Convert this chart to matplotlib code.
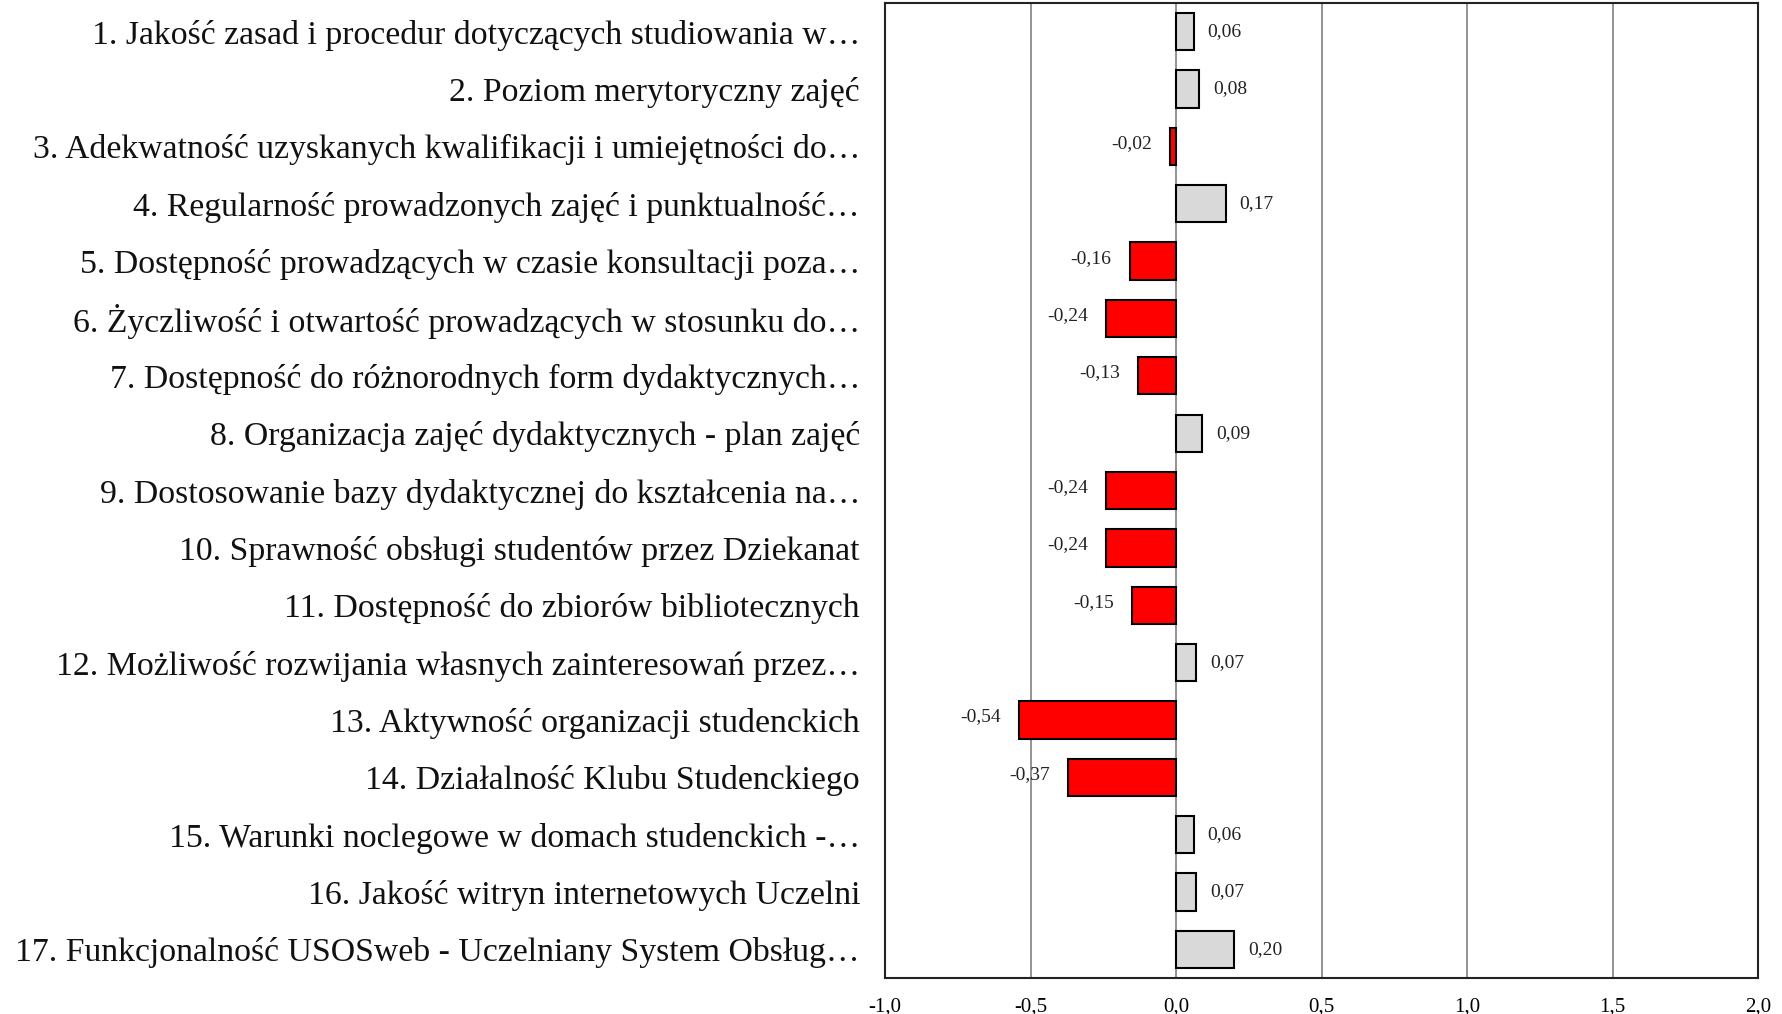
import matplotlib
matplotlib.use('Agg')
import matplotlib.pyplot as plt
import numpy as np

# Categories and differences
categories = [
    '1. Jakość zasad i procedur dotyczących studiowania w…',
    '2. Poziom merytoryczny zajęć',
    '3. Adekwatność uzyskanych kwalifikacji i umiejętności do…',
    '4. Regularność prowadzonych zajęć i punktualność…',
    '5. Dostępność prowadzących w czasie konsultacji poza…',
    '6. Życzliwość i otwartość prowadzących w stosunku do…',
    '7. Dostępność do różnorodnych form dydaktycznych…',
    '8. Organizacja zajęć dydaktycznych - plan zajęć',
    '9. Dostosowanie bazy dydaktycznej do kształcenia na…',
    '10. Sprawność obsługi studentów przez Dziekanat',
    '11. Dostępność do zbiorów bibliotecznych',
    '12. Możliwość rozwijania własnych zainteresowań przez…',
    '13. Aktywność organizacji studenckich',
    '14. Działalność Klubu Studenckiego',
    '15. Warunki noclegowe w domach studenckich -…',
    '16. Jakość witryn internetowych Uczelni',
    '17. Funkcjonalność USOSweb - Uczelniany System Obsług…',
]
values = [0.06, 0.08, -0.02, 0.17, -0.16, -0.24, -0.13, 0.09, -0.24, -0.24,
          -0.15, 0.07, -0.54, -0.37, 0.06, 0.07, 0.20]
xticks = [-1.0, -0.5, 0.0, 0.5, 1.0, 1.5, 2.0]

plt.rcParams['font.family'] = ['Liberation Serif', 'DejaVu Serif']

fig = plt.figure(figsize=(17.83, 10.14), dpi=100)
ax = fig.add_axes([0.4964, 0.0355, 0.4897, 0.9615])

y = np.arange(len(values))
colors = ['#ff0000' if v < 0 else '#d9d9d9' for v in values]
ax.barh(y, values, height=0.65, color=colors, edgecolor='black', linewidth=1.5, zorder=3)

# value labels, comma as decimal sign
for yi, v in zip(y, values):
    txt = f'{v:.2f}'.replace('.', ',')
    if v >= 0:
        ax.annotate(txt, (v, yi), xytext=(14, 0), textcoords='offset pixels',
                    ha='left', va='center', fontsize=14, color='#222222')
    else:
        ax.annotate(txt, (v, yi), xytext=(-18, 3), textcoords='offset pixels',
                    ha='right', va='center', fontsize=14, color='#222222')

ax.set_xlim(-1.0, 2.0)
ax.set_ylim(len(values) - 0.5, -0.5)
ax.set_xticks(xticks)
ax.set_xticklabels([f'{t:.1f}'.replace('.', ',') for t in xticks], fontsize=15)
ax.set_yticks(y)
ax.set_yticklabels(categories, fontsize=24.3, color='#111111')
ax.tick_params(axis='both', length=0)
ax.tick_params(axis='y', pad=18)
ax.tick_params(axis='x', pad=14)
ax.grid(axis='x', color='#808080', linewidth=1.2, zorder=0)
for s in ax.spines.values():
    s.set_linewidth(1.5)
    s.set_color('#222222')

fig.savefig('out.png', dpi=100)
